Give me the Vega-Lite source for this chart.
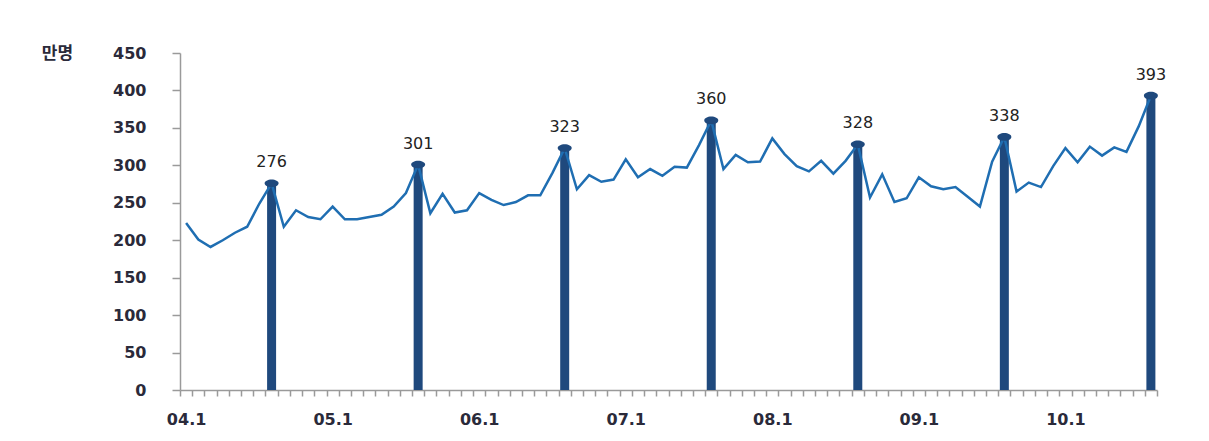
{
  "$schema": "https://vega.github.io/schema/vega-lite/v6.json",
  "width": 977,
  "height": 337,
  "autosize": "none",
  "padding": {"left": 180, "top": 53, "right": 52, "bottom": 51},
  "background": "white",
  "config": {"view": {"stroke": null}, "font": "DejaVu Sans"},
  "data": {"values": [
    {"i":0,"m":"04.1","v":223},{"i":1,"m":"04.2","v":201},{"i":2,"m":"04.3","v":191},{"i":3,"m":"04.4","v":200},
    {"i":4,"m":"04.5","v":210},{"i":5,"m":"04.6","v":218},{"i":6,"m":"04.7","v":249},{"i":7,"m":"04.8","v":276,"peak":true},
    {"i":8,"m":"04.9","v":218},{"i":9,"m":"04.10","v":240},{"i":10,"m":"04.11","v":231},{"i":11,"m":"04.12","v":228},
    {"i":12,"m":"05.1","v":245},{"i":13,"m":"05.2","v":228},{"i":14,"m":"05.3","v":228},{"i":15,"m":"05.4","v":231},
    {"i":16,"m":"05.5","v":234},{"i":17,"m":"05.6","v":245},{"i":18,"m":"05.7","v":263},{"i":19,"m":"05.8","v":301,"peak":true},
    {"i":20,"m":"05.9","v":236},{"i":21,"m":"05.10","v":262},{"i":22,"m":"05.11","v":237},{"i":23,"m":"05.12","v":240},
    {"i":24,"m":"06.1","v":263},{"i":25,"m":"06.2","v":254},{"i":26,"m":"06.3","v":247},{"i":27,"m":"06.4","v":251},
    {"i":28,"m":"06.5","v":260},{"i":29,"m":"06.6","v":260},{"i":30,"m":"06.7","v":290},{"i":31,"m":"06.8","v":323,"peak":true},
    {"i":32,"m":"06.9","v":268},{"i":33,"m":"06.10","v":287},{"i":34,"m":"06.11","v":278},{"i":35,"m":"06.12","v":281},
    {"i":36,"m":"07.1","v":308},{"i":37,"m":"07.2","v":284},{"i":38,"m":"07.3","v":295},{"i":39,"m":"07.4","v":286},
    {"i":40,"m":"07.5","v":298},{"i":41,"m":"07.6","v":297},{"i":42,"m":"07.7","v":327},{"i":43,"m":"07.8","v":360,"peak":true},
    {"i":44,"m":"07.9","v":295},{"i":45,"m":"07.10","v":314},{"i":46,"m":"07.11","v":304},{"i":47,"m":"07.12","v":305},
    {"i":48,"m":"08.1","v":336},{"i":49,"m":"08.2","v":315},{"i":50,"m":"08.3","v":299},{"i":51,"m":"08.4","v":292},
    {"i":52,"m":"08.5","v":306},{"i":53,"m":"08.6","v":289},{"i":54,"m":"08.7","v":306},{"i":55,"m":"08.8","v":328,"peak":true},
    {"i":56,"m":"08.9","v":257},{"i":57,"m":"08.10","v":288},{"i":58,"m":"08.11","v":251},{"i":59,"m":"08.12","v":256},
    {"i":60,"m":"09.1","v":284},{"i":61,"m":"09.2","v":272},{"i":62,"m":"09.3","v":268},{"i":63,"m":"09.4","v":271},
    {"i":64,"m":"09.5","v":258},{"i":65,"m":"09.6","v":245},{"i":66,"m":"09.7","v":305},{"i":67,"m":"09.8","v":338,"peak":true},
    {"i":68,"m":"09.9","v":265},{"i":69,"m":"09.10","v":277},{"i":70,"m":"09.11","v":271},{"i":71,"m":"09.12","v":299},
    {"i":72,"m":"10.1","v":323},{"i":73,"m":"10.2","v":304},{"i":74,"m":"10.3","v":325},{"i":75,"m":"10.4","v":313},
    {"i":76,"m":"10.5","v":324},{"i":77,"m":"10.6","v":318},{"i":78,"m":"10.7","v":352},{"i":79,"m":"10.8","v":393,"peak":true}
  ]},
  "encoding": {
    "x": {
      "field": "m", "type": "ordinal",
      "sort": {"field": "i", "op": "min"},
      "scale": {"paddingInner": 0, "paddingOuter": 0},
      "axis": {
        "title": null, "tickBand": "extent", "labelAngle": 0,
        "labelExpr": "slice(datum.label,-2)=='.1' ? datum.label : ''",
        "domainColor": "#9a9a9a", "domainWidth": 1.5,
        "tickColor": "#9a9a9a", "tickWidth": 1.5, "tickSize": 6,
        "labelFont": "DejaVu Sans", "labelFontSize": 16, "labelFontWeight": "bold",
        "labelColor": "#2a2a3a", "labelPadding": 15
      }
    },
    "y": {
      "field": "v", "type": "quantitative",
      "scale": {"domain": [0, 450]},
      "axis": {
        "values": [0,50,100,150,200,250,300,350,400,450],
        "grid": false,
        "title": "만명", "titleAngle": 0, "titleX": -123, "titleY": 0,
        "titleAlign": "center", "titleBaseline": "middle",
        "titleFont": "Noto Sans CJK KR", "titleFontSize": 17, "titleFontWeight": "bold", "titleColor": "#2a2a3a",
        "domainColor": "#9a9a9a", "domainWidth": 1.5,
        "tickColor": "#9a9a9a", "tickWidth": 1.5, "tickSize": 8,
        "labelFont": "DejaVu Sans", "labelFontSize": 16, "labelFontWeight": "bold",
        "labelColor": "#2a2a3a", "labelPadding": 26
      }
    }
  },
  "layer": [
    {
      "transform": [{"filter": "datum.peak"}],
      "mark": {"type": "bar", "size": 9, "color": "#1F497D"}
    },
    {
      "mark": {"type": "line", "color": "#1F6EB2", "strokeWidth": 2.5, "strokeJoin": "miter"}
    },
    {
      "transform": [{"filter": "datum.peak"}],
      "mark": {"type": "point", "filled": true, "opacity": 1, "color": "#1F497D", "size": 196,
               "shape": "M-1,0A1,0.55,0,1,1,1,0A1,0.55,0,1,1,-1,0Z"}
    },
    {
      "transform": [{"filter": "datum.peak"}],
      "mark": {"type": "text", "baseline": "alphabetic", "dy": -16, "fontSize": 16, "color": "#222222", "font": "DejaVu Sans"},
      "encoding": {"text": {"field": "v", "type": "quantitative"}}
    }
  ]
}
